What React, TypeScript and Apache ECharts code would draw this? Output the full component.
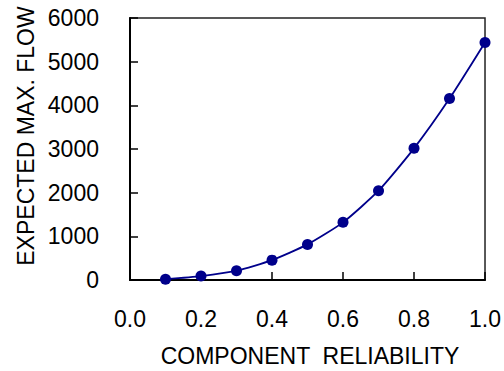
import React, { useEffect, useRef } from "react";
import * as echarts from "echarts";

const reliability = [0.1, 0.2, 0.3, 0.4, 0.5, 0.6, 0.7, 0.8, 0.9, 1.0];
const expectedFlow = [18, 90, 213, 455, 815, 1320, 2045, 3015, 4155, 5440];
const xTitle = "COMPONENT  RELIABILITY";
const yTitle = "EXPECTED MAX. FLOW";

export default function App() {
  const ref = useRef<HTMLDivElement>(null);
  useEffect(() => {
    if (!ref.current) return;
    const chart = echarts.init(ref.current, null, { renderer: "svg" });
    const font = "'Liberation Sans', Arial, sans-serif";
    chart.setOption({
      animation: false,
      backgroundColor: "#ffffff",
      grid: {
        left: 130,
        right: 15,
        top: 18,
        bottom: 91,
        show: true,
        borderColor: "#222",
        borderWidth: 1.5,
      },
      xAxis: {
        type: "value",
        min: 0,
        max: 1,
        interval: 0.2,
        axisLine: { show: true, lineStyle: { color: "#000", width: 2 } },
        axisTick: { show: true, inside: true, length: 8, lineStyle: { color: "#000", width: 1.5 } },
        splitLine: { show: false },
        axisLabel: {
          margin: 27,
          fontSize: 23,
          fontFamily: font,
          color: "#000",
          formatter: (v: number) => v.toFixed(1),
        },
      },
      yAxis: {
        type: "value",
        min: 0,
        max: 6000,
        interval: 1000,
        axisLine: { show: true, lineStyle: { color: "#000", width: 2 } },
        axisTick: { show: true, inside: true, length: 8, lineStyle: { color: "#000", width: 1.5 } },
        splitLine: { show: false },
        axisLabel: {
          margin: 31,
          fontSize: 23,
          fontFamily: font,
          color: "#000",
          formatter: (v: number) => String(v),
        },
      },
      graphic: [
        {
          type: "text",
          x: 310,
          y: 356,
          style: {
            text: xTitle,
            fontSize: 23,
            fontFamily: font,
            fill: "#000",
            textAlign: "center",
            textVerticalAlign: "middle",
          },
        },
        {
          type: "text",
          x: 26,
          y: 136,
          rotation: Math.PI / 2,
          style: {
            text: yTitle,
            fontSize: 23,
            fontFamily: font,
            fill: "#000",
            textAlign: "center",
            textVerticalAlign: "middle",
          },
        },
      ],
      series: [
        {
          type: "line",
          data: reliability.map((x, i) => [x, expectedFlow[i]]),
          smooth: 0.2,
          symbol: "circle",
          symbolSize: 11,
          lineStyle: { color: "#00008B", width: 1.8 },
          itemStyle: { color: "#00008B" },
          clip: false,
        },
      ],
    });
    return () => chart.dispose();
  }, []);
  return (
    <div
      ref={ref}
      style={{ position: "fixed", left: 0, top: 0, width: 504, height: 371 }}
    />
  );
}
